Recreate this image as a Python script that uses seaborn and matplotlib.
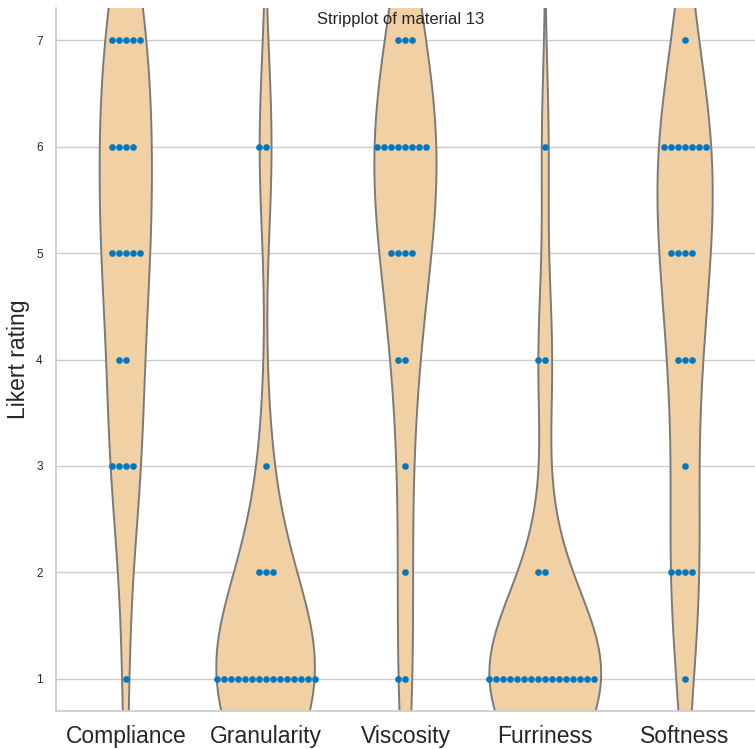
import numpy as np
import pandas as pd
import matplotlib
matplotlib.use("Agg")
import matplotlib.pyplot as plt
import seaborn as sns

attributes = ["Compliance", "Granularity", "Viscosity", "Furriness", "Softness"]
ratings = [1, 2, 3, 4, 5, 6, 7]

# number of participants giving each rating (1..7) per attribute
compliance_counts = [1, 0, 4, 2, 5, 4, 5]
granularity_counts = [15, 3, 1, 0, 0, 2, 0]
viscosity_counts = [2, 1, 1, 2, 4, 8, 3]
furriness_counts = [16, 2, 0, 2, 0, 1, 0]
softness_counts = [1, 4, 1, 3, 4, 7, 1]

counts = [compliance_counts, granularity_counts, viscosity_counts,
          furriness_counts, softness_counts]

rows = []
for attr, cnt in zip(attributes, counts):
    for r, n in zip(ratings, cnt):
        rows += [(attr, r)] * n
df = pd.DataFrame(rows, columns=["attribute", "rating"])

sns.set_theme(style="whitegrid")
plt.rcParams["font.family"] = ["Liberation Sans", "DejaVu Sans"]
fig = plt.figure(figsize=(7.55, 7.49), dpi=100)
ax = fig.add_axes([0.074, 0.051, 0.926, 0.938])

sns.violinplot(data=df, x="attribute", y="rating", order=attributes,
               color="#F1D0A4", saturation=1, inner=None,
               linecolor="#7A7A7A", linewidth=1.4, ax=ax)
sns.swarmplot(data=df, x="attribute", y="rating", order=attributes,
              color="#0177BF", size=4.8, ax=ax)

ax.set_ylim(0.7, 7.3)
ax.set_yticks(ratings)
ax.tick_params(axis="y", labelsize=8.5)
ax.tick_params(axis="x", labelsize=16.5, pad=4)
ax.set_xlabel("")
ax.set_ylabel("Likert rating", fontsize=16.5)
ax.xaxis.grid(False)
ax.set_title("Stripplot of material 13", fontsize=12, x=0.493, y=0.966)
sns.despine(ax=ax)

fig.savefig("out.png", dpi=100)
